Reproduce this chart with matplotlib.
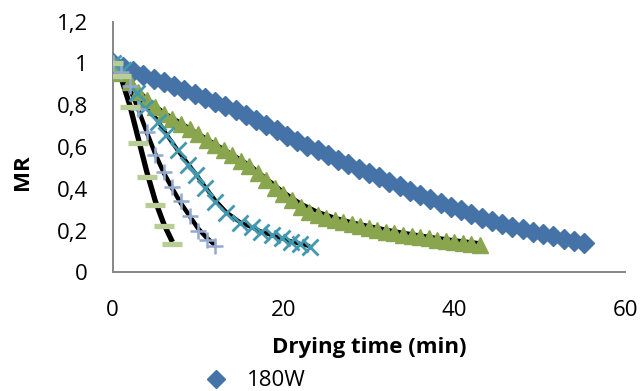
import matplotlib
matplotlib.use("Agg")
import matplotlib.pyplot as plt
from matplotlib.ticker import FuncFormatter

# ---------------- data ----------------
t_180 = [0, 1.2, 2.4, 3.6, 4.8, 6.0, 7.2, 8.4, 9.6, 10.8, 12.0, 13.2, 14.4, 15.6,
         16.8, 18.0, 19.2, 20.4, 21.6, 22.8, 24.0, 25.2, 26.4, 27.6, 28.8, 30.0,
         31.2, 32.4, 33.6, 34.8, 36.0, 37.2, 38.4, 39.6, 40.8, 42.0, 43.2, 44.4,
         45.6, 46.8, 48.0, 49.2, 50.4, 51.6, 52.8, 54.0, 55.2]
mr_180 = [1.000, 0.982, 0.964, 0.946, 0.928, 0.910, 0.892, 0.874, 0.856, 0.837,
          0.817, 0.796, 0.775, 0.752, 0.729, 0.705, 0.680, 0.655, 0.630, 0.607,
          0.584, 0.562, 0.540, 0.518, 0.497, 0.476, 0.454, 0.433, 0.412, 0.391,
          0.371, 0.351, 0.332, 0.314, 0.296, 0.279, 0.262, 0.245, 0.229, 0.216,
          0.205, 0.194, 0.183, 0.172, 0.161, 0.150, 0.138]
t_180_fit = [0, 5, 10, 15, 20, 25, 30, 35, 40, 45, 50, 55]
mr_180_fit = [1.0, 0.925, 0.85, 0.765, 0.66, 0.565, 0.476, 0.388, 0.306, 0.237, 0.187, 0.14]

t_s2 = list(range(0, 44))
mr_s2 = [1.00, 0.955, 0.91, 0.865, 0.825, 0.79, 0.76, 0.735, 0.71, 0.685, 0.66,
         0.635, 0.61, 0.585, 0.56, 0.535, 0.51, 0.475, 0.44, 0.405, 0.375, 0.345,
         0.315, 0.29, 0.275, 0.262, 0.25, 0.24, 0.23, 0.22, 0.21, 0.202, 0.195,
         0.188, 0.181, 0.175, 0.169, 0.163, 0.157, 0.151, 0.146, 0.141, 0.136, 0.131]
t_s2_fit = [0, 2, 4, 6, 8, 10, 12, 14, 16, 18, 20, 22, 24, 26, 28, 30, 32, 34, 36, 38, 40, 43]
mr_s2_fit = [1.0, 0.915, 0.83, 0.765, 0.715, 0.665, 0.615, 0.565, 0.515, 0.45, 0.385,
             0.33, 0.29, 0.262, 0.24, 0.222, 0.205, 0.19, 0.177, 0.165, 0.154, 0.14]

t_s3 = [0, 1.2, 2.8, 3.8, 5.3, 6.3, 7.6, 8.8, 9.8, 10.8, 12.0, 13.3, 14.9, 16.3,
        17.4, 18.6, 19.8, 20.9, 21.9, 23.1]
mr_s3 = [1.0, 0.97, 0.858, 0.788, 0.722, 0.658, 0.586, 0.514, 0.466, 0.404, 0.339,
         0.283, 0.236, 0.219, 0.195, 0.179, 0.163, 0.147, 0.136, 0.123]
mr_s3_fit = [1.0, 0.95, 0.87, 0.80, 0.725, 0.66, 0.585, 0.52, 0.468, 0.41, 0.345,
             0.288, 0.24, 0.215, 0.195, 0.178, 0.162, 0.148, 0.137, 0.125]

t_s4 = list(range(0, 13))
mr_s4 = [1.0, 0.96, 0.89, 0.78, 0.67, 0.56, 0.48, 0.41, 0.34, 0.27, 0.20, 0.155, 0.125]
mr_s4_fit = [1.0, 0.955, 0.88, 0.78, 0.67, 0.565, 0.475, 0.40, 0.33, 0.27, 0.21, 0.165, 0.13]

t_s5 = list(range(0, 8))
mr_s5 = [1.0, 0.94, 0.79, 0.62, 0.455, 0.32, 0.22, 0.135]
mr_s5_fit = [1.0, 0.93, 0.80, 0.64, 0.48, 0.34, 0.23, 0.145]

x_ticks = [0, 20, 40, 60]
y_ticks = [0, 0.2, 0.4, 0.6, 0.8, 1.0, 1.2]

# ---------------- figure ----------------
plt.rcParams['font.family'] = ['Open Sans', 'DejaVu Sans']
FS = 16
fig = plt.figure(figsize=(6.41, 3.91), dpi=100)
ax = fig.add_axes([112.7 / 641, (391 - 272.3) / 391, (625 - 112.7) / 641, (272.3 - 21.7) / 391])

# fitted model lines (behind markers)
fit_kw = dict(color='black', zorder=2, solid_capstyle='butt')
ax.plot(t_180_fit, mr_180_fit, lw=2.8, **fit_kw)
ax.plot(t_s2_fit, mr_s2_fit, lw=2.8, **fit_kw)
ax.plot(t_s3, mr_s3_fit, lw=3.0, **fit_kw)
ax.plot(t_s4, mr_s4_fit, lw=3.2, **fit_kw)
ax.plot(t_s5, mr_s5_fit, lw=3.8, **fit_kw)

# experimental points
h180, = ax.plot(t_180, mr_180, ls='none', marker='D', ms=10.5, color='#4572A7',
                mec='#4572A7', zorder=3, label='180W')
ax.plot(t_s2, mr_s2, ls='none', marker='^', ms=11.5, color='#89A54E', mec='#89A54E', zorder=3)
ax.plot(t_s3, mr_s3, ls='none', marker='x', ms=11, mew=2.0, color='#4198AF', zorder=4)
ax.plot(t_s4, mr_s4, ls='none', marker='+', ms=11, mew=1.8, color='#93A9CF', zorder=4)
ax.plot(t_s5, mr_s5, ls='none', marker='_', ms=14, mew=3.8, color='#B9CD96', zorder=4)

ax.set_xlim(0, 60)
ax.set_ylim(0, 1.2)
ax.set_xticks(x_ticks)
ax.set_yticks(y_ticks)
fmt = FuncFormatter(lambda v, p: ('%g' % round(v, 2)).replace('.', ','))
ax.xaxis.set_major_formatter(fmt)
ax.yaxis.set_major_formatter(fmt)
ax.tick_params(axis='both', length=0, labelsize=FS, colors='black')
ax.tick_params(axis='y', pad=18)
ax.tick_params(axis='x', pad=20)

for s in ['top', 'right']:
    ax.spines[s].set_visible(False)
for s in ['left', 'bottom']:
    ax.spines[s].set_color('#868686')
    ax.spines[s].set_linewidth(1.4)

ax.set_xlabel('Drying time (min)', fontsize=FS, fontweight='bold')
ax.set_ylabel('MR', fontsize=FS, fontweight='bold')
ax.xaxis.set_label_coords(0.5, (272.3 - 347) / 250.6)
ax.xaxis.label.set_va('center')
ax.yaxis.set_label_coords((23 - 112.7) / 512.3, (272.3 - 172) / 250.6)
ax.yaxis.label.set_va('center')

fig.legend(handles=[h180], loc='center left', bbox_to_anchor=(205 / 641, 1 - 381 / 391),
           frameon=False, fontsize=FS, borderpad=0, borderaxespad=0,
           handlelength=1.0, handletextpad=0.9, markerscale=0.9)

fig.savefig('out.png', dpi=100)
